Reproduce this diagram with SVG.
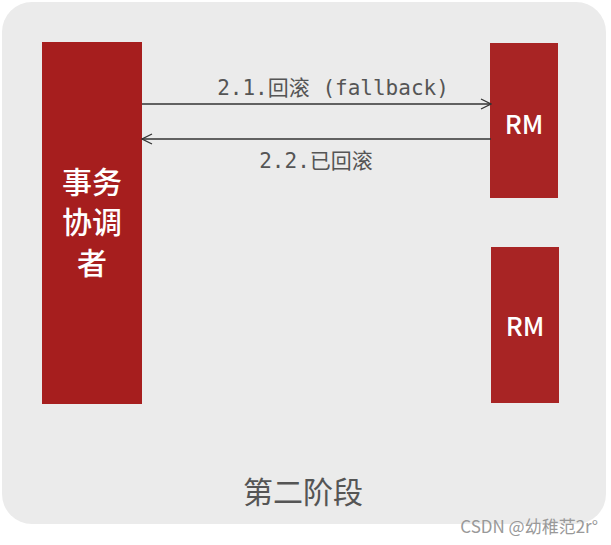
<svg xmlns="http://www.w3.org/2000/svg" width="611" height="545" viewBox="0 0 611 545">
<style>
.box{fill:#a61e1e}
.rm{fill:#a82424}
.wt{fill:#fff;font-family:"Noto Sans CJK SC","Noto Sans",sans-serif;text-anchor:middle;font-weight:500}
.lbl{fill:#555;font-family:"DejaVu Sans Mono","Noto Sans CJK SC",monospace;font-size:21px;text-anchor:middle}
.conn{stroke:#333;stroke-width:1.3;fill:none}
</style>
<defs>
<marker id="arr" viewBox="0 0 12 12" refX="11" refY="6" markerWidth="12" markerHeight="12" markerUnits="userSpaceOnUse" orient="auto-start-reverse">
<path d="M1,1 L11,6 L1,11" fill="none" stroke="#333" stroke-width="1.3"/>
</marker>
</defs>
<rect width="611" height="545" fill="#fff"/>
<rect x="2" y="2" width="604" height="522" rx="30" fill="#ebebeb"/>
<g id="coordinator">
<rect class="box" x="42" y="42" width="100" height="362"/>
<text class="wt" font-size="30" x="92" y="193">事务</text>
<text class="wt" font-size="30" x="92" y="233">协调</text>
<text class="wt" font-size="30" x="92" y="274">者</text>
</g>
<g id="rm1">
<rect class="rm" x="490" y="43" width="68" height="155"/>
<text class="wt" font-size="26" x="524" y="134">RM</text>
</g>
<g id="rm2">
<rect class="rm" x="491" y="247" width="68" height="156"/>
<text class="wt" font-size="26" x="525" y="336">RM</text>
</g>
<g id="connectors">
<line class="conn" x1="142" y1="104" x2="491" y2="104" marker-end="url(#arr)"/>
<line class="conn" x1="491" y1="139" x2="142" y2="139" marker-end="url(#arr)"/>
<text class="lbl" x="333" y="95">2.1.回滚 (fallback)</text>
<text class="lbl" x="316" y="168">2.2.已回滚</text>
</g>
<text x="303" y="503" fill="#555" font-size="30" text-anchor="middle" font-family="Noto Sans CJK SC,sans-serif">第二阶段</text>
<text x="598" y="533" fill="#999" font-size="17" text-anchor="end" font-family="Noto Sans CJK SC,sans-serif">CSDN @幼稚范2r°</text>
</svg>
